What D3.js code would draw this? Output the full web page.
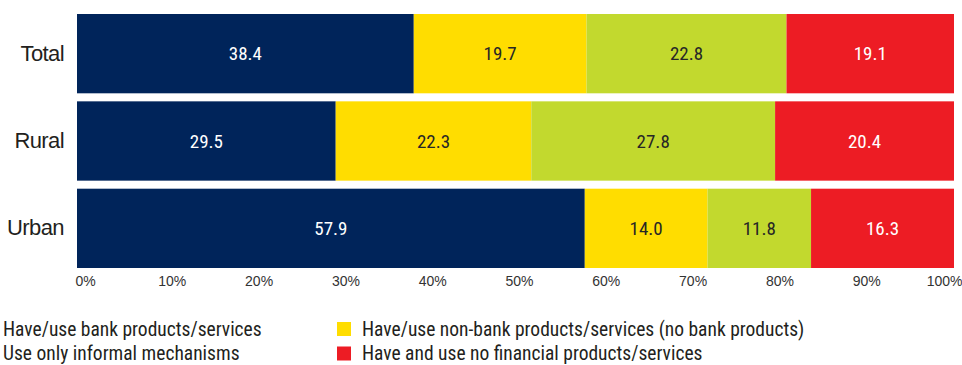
<!DOCTYPE html>
<html>
<head>
<meta charset="utf-8">
<script src="https://cdn.jsdelivr.net/npm/d3@7"></script>
<style>
  html, body { margin: 0; padding: 0; background: #fff; }
  svg { display: block; font-family: "Roboto Condensed", "Liberation Sans", sans-serif; }
</style>
</head>
<body>
<svg id="chart" width="962" height="365"></svg>
<script>
// Share of population by use of financial products/services (%)
const categories = ["Total", "Rural", "Urban"];
const seriesNames = [
  "Have/use bank products/services",
  "Have/use non-bank products/services (no bank products)",
  "Use only informal mechanisms",
  "Have and use no financial products/services"
];
const bankValues     = [38.4, 29.5, 57.9];
const nonBankValues  = [19.7, 22.3, 14.0];
const informalValues = [22.8, 27.8, 11.8];
const noneValues     = [19.1, 20.4, 16.3];
const tickLabels = ["0%", "10%", "20%", "30%", "40%", "50%", "60%", "70%", "80%", "90%", "100%"];

const colors = ["#00245a", "#ffdd00", "#c2d92e", "#ed1c24"];
const labelColors = ["#ffffff", "#262626", "#262626", "#ffffff"];
const textColor = "#231f20";

const svg = d3.select("#chart");
const W = 962;

const rows = categories.map((c, i) => ({
  category: c,
  s0: bankValues[i], s1: nonBankValues[i], s2: informalValues[i], s3: noneValues[i]
}));
const keys = ["s0", "s1", "s2", "s3"];
const stacked = d3.stack().keys(keys)(rows);

const x = d3.scaleLinear().domain([0, 100]).range([77, 954]);
// tick labels sit on a slightly inset copy of the percentage scale
const xTicks = d3.scaleLinear().domain([0, 100]).range([85, 953]);
const y = d3.scaleBand().domain(categories).range([14, 268]).paddingInner(0.092).paddingOuter(0);

// bars
const layers = svg.append("g").selectAll("g").data(stacked).join("g")
  .attr("fill", (d, i) => colors[i]);
layers.selectAll("rect").data(d => d).join("rect")
  .attr("x", d => x(d[0]))
  .attr("y", d => y(d.data.category))
  .attr("width", d => x(d[1]) - x(d[0]))
  .attr("height", y.bandwidth());

// value labels
stacked.forEach((layer, li) => {
  svg.append("g").selectAll("text").data(layer).join("text")
    .attr("x", d => (x(d[0]) + x(d[1])) / 2)
    .attr("y", d => y(d.data.category) + y.bandwidth() / 2)
    .attr("dy", "0.35em")
    .attr("text-anchor", "middle")
    .attr("font-size", 19)
    .attr("fill", labelColors[li])
    .text(d => (d[1] - d[0]).toFixed(1));
});

// category axis
const yAxis = svg.append("g").attr("transform", "translate(64,0)")
  .call(d3.axisLeft(y).tickSize(0).tickPadding(0));
yAxis.select(".domain").remove();
yAxis.selectAll("text").attr("font-size", 22).attr("fill", textColor)
  .attr("letter-spacing", -0.6).attr("font-family", null);

// percentage axis
const xAxis = svg.append("g").attr("transform", "translate(0,268)")
  .call(d3.axisBottom(xTicks).tickValues(d3.range(0, 101, 10)).tickSize(0).tickPadding(8)
    .tickFormat((d, i) => tickLabels[i]));
xAxis.select(".domain").remove();
xAxis.selectAll("text").attr("font-size", 14).attr("fill", "#333")
  .attr("font-family", null);
// keep the last label inside the page
xAxis.selectAll(".tick").filter(d => d === 100).select("text")
  .attr("text-anchor", "end").attr("x", W - xTicks(100));

// legend (two columns)
const legendItems = [
  { name: seriesNames[0], color: colors[0], col: 0, row: 0 },
  { name: seriesNames[1], color: colors[1], col: 1, row: 0 },
  { name: seriesNames[2], color: colors[2], col: 0, row: 1 },
  { name: seriesNames[3], color: colors[3], col: 1, row: 1 }
];
const colX = [-22, 337];
const legend = svg.append("g").selectAll("g").data(legendItems).join("g")
  .attr("transform", d => `translate(${colX[d.col]},${322 + d.row * 24.5})`);
legend.append("rect").attr("width", 14).attr("height", 14).attr("fill", d => d.color);
legend.append("text").attr("x", 25).attr("y", 7).attr("dy", "0.35em")
  .attr("font-size", 19.5).attr("fill", textColor)
  .text(d => d.name);
</script>
</body>
</html>
